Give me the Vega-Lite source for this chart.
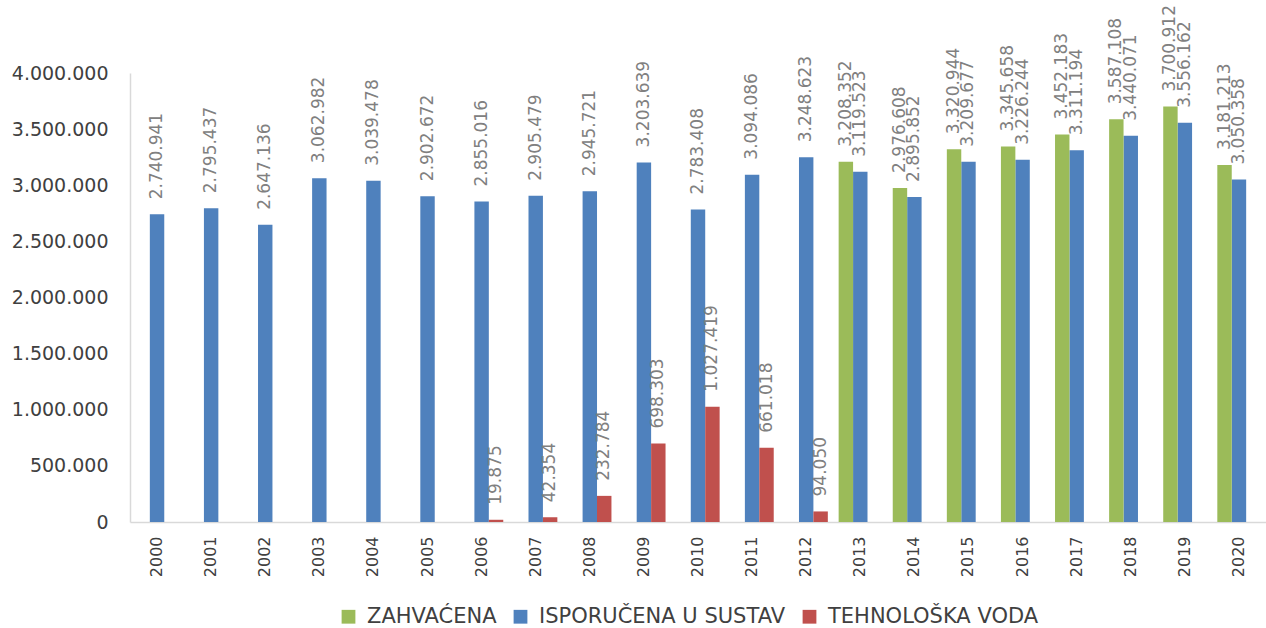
{
  "$schema": "https://vega.github.io/schema/vega-lite/v6.json",
  "width": 1136,
  "height": 449,
  "autosize": {"type": "none"},
  "padding": {"left": 130, "top": 73, "right": 0, "bottom": 106},
  "background": "white",
  "config": {
    "locale": {"number": {"decimal": ",", "thousands": ".", "grouping": [3], "currency": ["", ""]}},
    "view": {"stroke": null},
    "font": "DejaVu Sans"
  },
  "data": {
    "values": [
      {"year": "2000", "series": "ISPORUČENA U SUSTAV", "value": 2740941},
      {"year": "2001", "series": "ISPORUČENA U SUSTAV", "value": 2795437},
      {"year": "2002", "series": "ISPORUČENA U SUSTAV", "value": 2647136},
      {"year": "2003", "series": "ISPORUČENA U SUSTAV", "value": 3062982},
      {"year": "2004", "series": "ISPORUČENA U SUSTAV", "value": 3039478},
      {"year": "2005", "series": "ISPORUČENA U SUSTAV", "value": 2902672},
      {"year": "2006", "series": "ISPORUČENA U SUSTAV", "value": 2855016},
      {"year": "2007", "series": "ISPORUČENA U SUSTAV", "value": 2905479},
      {"year": "2008", "series": "ISPORUČENA U SUSTAV", "value": 2945721},
      {"year": "2009", "series": "ISPORUČENA U SUSTAV", "value": 3203639},
      {"year": "2010", "series": "ISPORUČENA U SUSTAV", "value": 2783408},
      {"year": "2011", "series": "ISPORUČENA U SUSTAV", "value": 3094086},
      {"year": "2012", "series": "ISPORUČENA U SUSTAV", "value": 3248623},
      {"year": "2013", "series": "ISPORUČENA U SUSTAV", "value": 3119523},
      {"year": "2014", "series": "ISPORUČENA U SUSTAV", "value": 2895852},
      {"year": "2015", "series": "ISPORUČENA U SUSTAV", "value": 3209677},
      {"year": "2016", "series": "ISPORUČENA U SUSTAV", "value": 3226244},
      {"year": "2017", "series": "ISPORUČENA U SUSTAV", "value": 3311194},
      {"year": "2018", "series": "ISPORUČENA U SUSTAV", "value": 3440071},
      {"year": "2019", "series": "ISPORUČENA U SUSTAV", "value": 3556162},
      {"year": "2020", "series": "ISPORUČENA U SUSTAV", "value": 3050358},
      {"year": "2013", "series": "ZAHVAĆENA", "value": 3208352},
      {"year": "2014", "series": "ZAHVAĆENA", "value": 2976608},
      {"year": "2015", "series": "ZAHVAĆENA", "value": 3320944},
      {"year": "2016", "series": "ZAHVAĆENA", "value": 3345658},
      {"year": "2017", "series": "ZAHVAĆENA", "value": 3452183},
      {"year": "2018", "series": "ZAHVAĆENA", "value": 3587108},
      {"year": "2019", "series": "ZAHVAĆENA", "value": 3700912},
      {"year": "2020", "series": "ZAHVAĆENA", "value": 3181213},
      {"year": "2006", "series": "TEHNOLOŠKA VODA", "value": 19875},
      {"year": "2007", "series": "TEHNOLOŠKA VODA", "value": 42354},
      {"year": "2008", "series": "TEHNOLOŠKA VODA", "value": 232784},
      {"year": "2009", "series": "TEHNOLOŠKA VODA", "value": 698303},
      {"year": "2010", "series": "TEHNOLOŠKA VODA", "value": 1027419},
      {"year": "2011", "series": "TEHNOLOŠKA VODA", "value": 661018},
      {"year": "2012", "series": "TEHNOLOŠKA VODA", "value": 94050}
    ]
  },
  "encoding": {
    "x": {
      "field": "year", "type": "nominal", "title": null,
      "scale": {"paddingInner": 0.2, "paddingOuter": 0.1},
      "axis": {
        "labelAngle": -90, "labelAlign": "right", "labelBaseline": "middle",
        "labelFontSize": 16, "labelColor": "#404040", "labelPadding": 14,
        "ticks": false, "domainColor": "#d9d9d9", "domainWidth": 1.5
      }
    },
    "xOffset": {
      "field": "series", "type": "nominal",
      "scale": {"domain": ["ZAHVAĆENA", "ISPORUČENA U SUSTAV", "TEHNOLOŠKA VODA"], "paddingInner": 0}
    },
    "y": {
      "field": "value", "type": "quantitative", "title": null,
      "scale": {"domain": [0, 4000000], "nice": false},
      "axis": {
        "values": [0, 500000, 1000000, 1500000, 2000000, 2500000, 3000000, 3500000, 4000000],
        "format": ",d", "grid": false, "ticks": false,
        "labelFontSize": 19, "labelColor": "#404040", "labelPadding": 22,
        "domainColor": "#d9d9d9", "domainWidth": 1.5
      }
    }
  },
  "layer": [
    {
      "mark": {"type": "bar"},
      "encoding": {
        "color": {
          "field": "series", "type": "nominal", "title": null,
          "scale": {
            "domain": ["ZAHVAĆENA", "ISPORUČENA U SUSTAV", "TEHNOLOŠKA VODA"],
            "range": ["#9BBB59", "#4F81BD", "#C0504D"]
          },
          "legend": {
            "orient": "none", "legendX": 208, "legendY": 533,
            "direction": "horizontal", "symbolType": "square",
            "symbolSize": 190, "symbolStrokeWidth": 0, "labelFontSize": 21, "labelColor": "#404040",
            "labelOffset": 8, "columnPadding": 13, "labelLimit": 500
          }
        }
      }
    },
    {
      "mark": {"type": "text", "angle": -90, "align": "left", "baseline": "middle", "dx": 15, "fontSize": 17, "color": "#808080"},
      "encoding": {
        "text": {"field": "value", "type": "quantitative", "format": ",d"}
      }
    }
  ]
}
